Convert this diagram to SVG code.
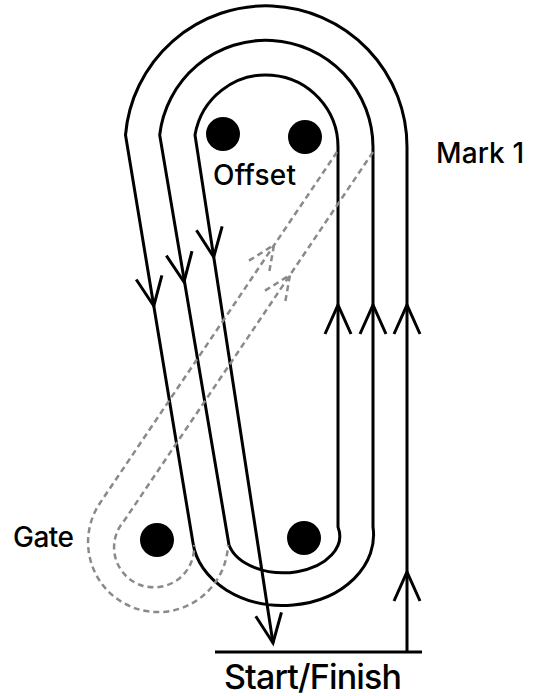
<svg xmlns="http://www.w3.org/2000/svg" xmlns:xlink="http://www.w3.org/1999/xlink" width="536" height="696" viewBox="0 0 536 696">
  <style>
    .track { fill: none; stroke: #000; stroke-width: 3; stroke-linejoin: miter; }
    .dash { fill: none; stroke: #8a8a8a; stroke-width: 2.5; stroke-dasharray: 6 4; }
    .buoy { fill: #000; }
    .label { font-family: Inter, "Liberation Sans", Arial, sans-serif; font-weight: 500; fill: #000; }
  </style>
  <defs>
    <path id="arrowV" d="M-13 29 L0 0 L13 29" fill="none" stroke="#000" stroke-width="3"/>
    <path id="arrowD" d="M-12 27 L0 0 L12 27" fill="none" stroke="#8a8a8a" stroke-width="2.5" stroke-dasharray="6 4"/>
  </defs>
  <rect width="536" height="696" fill="#fff"/>

  <g id="connectors">
    <!-- course path: start, outer lap, middle lap, inner lap, finish -->
    <path class="track" d="M407 652 L407 147 A141 141 0 0 0 125.5 135 L193 543 A90 70 0 0 0 373 527 L373 147 A107 107 0 0 0 159.7 135 L229 545 A55 36 0 0 0 338 527 L338 147 A72 72 0 0 0 195 135 L273 643"/>
    <!-- start / finish line -->
    <path class="track" d="M215 652 L422 652"/>
    <!-- gate approach (dashed) -->
    <path class="dash" d="M337 152 L100 503 A70 70 0 1 0 228 545"/>
    <path class="dash" d="M373 152 L124 521 A40 40 0 1 0 194 545"/>
    <!-- arrowheads -->
    <use xlink:href="#arrowV" transform="translate(407 305)"/>
    <use xlink:href="#arrowV" transform="translate(373 305)"/>
    <use xlink:href="#arrowV" transform="translate(338 305)"/>
    <use xlink:href="#arrowV" transform="translate(407 572)"/>
    <use xlink:href="#arrowV" transform="translate(153.8 306) rotate(170.6)"/>
    <use xlink:href="#arrowV" transform="translate(184 282) rotate(170.4)"/>
    <use xlink:href="#arrowV" transform="translate(213.7 257) rotate(171.3)"/>
    <use xlink:href="#arrowV" transform="translate(273 643) rotate(171.3)"/>
    <use xlink:href="#arrowD" transform="translate(274 245) rotate(34)"/>
    <use xlink:href="#arrowD" transform="translate(290 275) rotate(34)"/>
  </g>

  <g id="buoy-offset-left"><circle class="buoy" cx="223" cy="134" r="17"/></g>
  <g id="buoy-mark1"><circle class="buoy" cx="305" cy="137" r="17"/></g>
  <g id="buoy-gate"><circle class="buoy" cx="157" cy="540" r="17"/></g>
  <g id="buoy-bottom"><circle class="buoy" cx="304" cy="538" r="17"/></g>

  <g id="label-offset"><text class="label" x="213" y="185" font-size="28" textLength="83" lengthAdjust="spacing">Offset</text></g>
  <g id="label-mark1"><text class="label" x="436" y="163" font-size="28" textLength="88" lengthAdjust="spacing">Mark 1</text></g>
  <g id="label-gate"><text class="label" x="13" y="547" font-size="28" textLength="61" lengthAdjust="spacing">Gate</text></g>
  <g id="label-start"><text class="label" x="224" y="689" font-size="34" textLength="178" lengthAdjust="spacing">Start/Finish</text></g>
</svg>
